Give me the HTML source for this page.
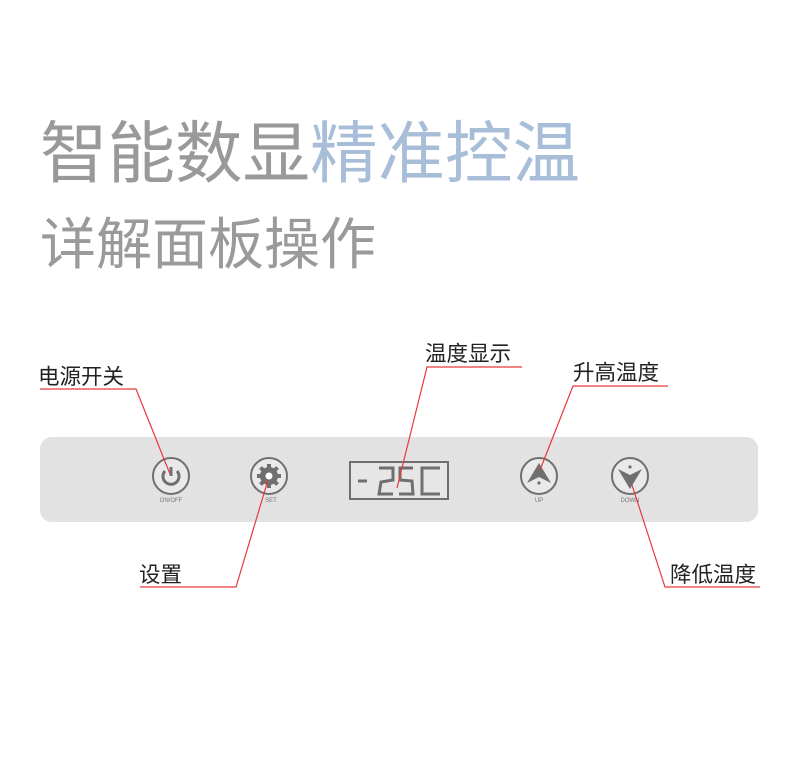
<!DOCTYPE html>
<html><head><meta charset="utf-8"><style>
html,body{margin:0;padding:0;background:#fff;}
svg{display:block;}
text{font-family:"Liberation Sans","Noto Sans CJK SC",sans-serif;}
</style></head><body>
<svg width="800" height="768" viewBox="0 0 800 768" xmlns="http://www.w3.org/2000/svg">
<rect width="800" height="768" fill="#fff"/>
<text x="40" y="177" font-size="67.5" fill="#999999">智能数显<tspan fill="#a8bdd8">精准控温</tspan></text>
<text x="40" y="264" font-size="56" fill="#9a9a9a">详解面板操作</text>

<rect x="40" y="437" width="718" height="85" rx="12" fill="#e2e2e2"/>

<!-- power -->
<circle cx="171" cy="476" r="18" fill="#e9e9e9" stroke="#6f6f6f" stroke-width="2"/>
<path d="M165 471 A8 8 0 1 0 177 471" fill="none" stroke="#6f6f6f" stroke-width="3"/>
<line x1="171" y1="467" x2="171" y2="476" stroke="#6f6f6f" stroke-width="3"/>
<text x="171" y="502" font-size="6" fill="#777" text-anchor="middle">ON/OFF</text>

<!-- gear -->
<circle cx="269" cy="476" r="18" fill="#e9e9e9" stroke="#6f6f6f" stroke-width="2"/>
<g fill="#6f6f6f">
<circle cx="269" cy="476" r="9"/>
<g stroke="#6f6f6f" stroke-width="4">
<line x1="269" y1="464" x2="269" y2="488"/>
<line x1="257" y1="476" x2="281" y2="476"/>
<line x1="260.5" y1="467.5" x2="277.5" y2="484.5"/>
<line x1="277.5" y1="467.5" x2="260.5" y2="484.5"/>
</g></g>
<circle cx="269" cy="476" r="3.5" fill="#fff"/>
<text x="271" y="502" font-size="6" fill="#777" text-anchor="middle">SET</text>

<!-- display -->
<rect x="350" y="462" width="98" height="37" fill="#e6e6e6" stroke="#6f6f6f" stroke-width="2"/>
<g stroke="#6f6f6f" stroke-width="3" fill="none">
<line x1="358" y1="481" x2="367" y2="481"/>
<polyline points="379,468 393,468 393,480 381,482 379,494 393,494"/>
<polyline points="413,468 400,468 400,480 412,481 413,494 399,494"/>
<polyline points="440,468 422,468 422,494 440,494"/>
</g>

<!-- up -->
<circle cx="539" cy="476" r="18" fill="#e9e9e9" stroke="#6f6f6f" stroke-width="2"/>
<polygon points="539,463 527,483 539,477 551,483" fill="#6f6f6f"/>
<circle cx="539" cy="483" r="1.6" fill="#6f6f6f"/>
<text x="539" y="502" font-size="6" fill="#777" text-anchor="middle">UP</text>

<!-- down -->
<circle cx="630" cy="476" r="18" fill="#e9e9e9" stroke="#6f6f6f" stroke-width="2"/>
<polygon points="630,489 618,469 630,475 642,469" fill="#6f6f6f"/>
<circle cx="630" cy="467" r="1.6" fill="#6f6f6f"/>
<text x="630" y="502" font-size="6" fill="#777" text-anchor="middle">DOWN</text>

<!-- labels -->
<g font-size="21.5" fill="#222">
<text x="38" y="384">电源开关</text>
<text x="425" y="361">温度显示</text>
<text x="573" y="380">升高温度</text>
<text x="139" y="582">设置</text>
<text x="670" y="582">降低温度</text>
</g>
<g stroke="#e8393a" stroke-width="1.2" fill="none">
<polyline points="40,389 136,389 170,474"/>
<polyline points="522,367 427,367 397,488"/>
<polyline points="668,386 573,386 540,470"/>
<polyline points="140,587 236,587 268,480"/>
<polyline points="760,587 665,587 632,485"/>
</g>
</svg>
</body></html>
